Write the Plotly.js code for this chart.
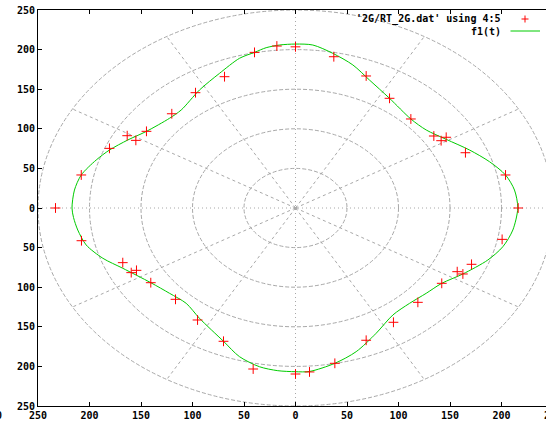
<!DOCTYPE html>
<html><head><meta charset="utf-8">
<script src="https://cdn.plot.ly/plotly-3.0.1.min.js"></script>
<style>html,body{margin:0;padding:0;overflow:hidden;background:#fff;width:546px;height:421px}</style>
</head><body><div id="chart"></div>
<script>
// measured data points ('2G/RT_2G.dat' using 4:5), Cartesian x,y
const pointsX = [-233, -208, -180.6, -163.4, -155, -144.7, -120.1, -97.1, -68.9, -39.8, -18.1,
  0, 37.2, 68.6, 91.3, 112, 134.3, 141.4, 146.3, 165, 203.9, 216.2,
  -207.8, -167.7, -159.5, -154.4, -140.5, -116.5, -95.1, -69.9, -41.1,
  0, 13.6, 38.2, 68.6, 95.1, 118.8, 142, 157, 162.5, 170.9, 200.6];
const pointsY = [0, 41.7, 75.3, 91.3, 85.4, 96.8, 119, 145.6, 165.8, 196.5, 204.5,
  203.5, 191, 166.7, 138.5, 112.4, 90.9, 85, 89.3, 69.8, 41.7, 0,
  -41.3, -69, -81.6, -78.7, -94.3, -115.3, -141.4, -168.3, -203.3,
  -209.6, -207, -196.1, -167, -144.3, -119.1, -95.1, -80.4, -83.3, -71.1, -39.6];

// f1(t) curve
const curveX = [215.8, 212.6, 203.9, 188.3, 169, 146.3, 126.9, 112, 91.3, 71.8, 55.7, 36.2, 16.8, 0,
  -15.5, -28.5, -39.8, -54.4, -73.8, -93.2, -111, -122.3, -144.7, -162.8, -180.6, -193.5, -208, -214.6, -217,
  -215.5, -211.4, -203.2, -187, -167.7, -140.5, -122.3, -106.1, -93.2, -69.9, -54.4, -35, -17.2, 0,
  13.6, 38.2, 58.9, 78.3, 94.5, 110.7, 126.9, 142, 162.5, 186.7, 201.3, 211, 215.8];
const curveY = [0, 22.7, 41.7, 58.5, 73.2, 86.7, 98.5, 112.4, 138.5, 161.6, 180.6, 195.3, 205.8, 207,
  205.8, 202.4, 196.5, 189, 170, 149, 123.7, 113.3, 96.8, 85.9, 73.2, 60.6, 41.7, 22.7, 0,
  -12, -27.8, -46.7, -63.5, -76.1, -94.3, -107.7, -120.4, -139.3, -168.3, -187.7, -200.4, -205.4, -206.7,
  -206.4, -196.1, -181.4, -158.2, -135.1, -120.4, -107.7, -95.1, -83.3, -65.7, -48.9, -27.8, 0];

const tickVals = [-250, -200, -150, -100, -50, 0, 50, 100, 150, 200, 250];
const tickText = ['250', '200', '150', '100', '50', '0', '50', '100', '150', '200', '250'];
const gridRadii = [50, 100, 150, 200, 250];
const spokeAngles = [30, 60, 120, 150, 210, 240, 300, 330];
const legendLabels = ["'2G/RT_2G.dat' using 4:5", "f1(t)"];

const W = 563, H = 421, L = 38, R = 10, T = 10, B = 15;
const PW = W - L - R, PH = H - T - B;
const px = v => (v - L) / PW;
const py = v => (H - B - v) / PH;

const font = {family: 'DejaVu Sans Mono', size: 10, color: '#000', weight: 'bold'};
const gridColor = '#a8a8a8';
const shapes = [];
gridRadii.forEach(r => shapes.push({type: 'circle', xref: 'x', yref: 'y', x0: -r, x1: r, y0: -r, y1: r,
  layer: 'below', line: {color: gridColor, width: 1, dash: '4px,2px'}}));
const rMax = gridRadii[gridRadii.length - 1];
spokeAngles.forEach(a => {
  const t = a * Math.PI / 180;
  shapes.push({type: 'line', xref: 'x', yref: 'y', x0: 0, y0: 0, x1: rMax * Math.cos(t), y1: rMax * Math.sin(t),
    layer: 'below', line: {color: gridColor, width: 1, dash: '3px,3px'}});
});
shapes.push({type: 'line', xref: 'x', yref: 'y', x0: -250, x1: 250, y0: 0, y1: 0, layer: 'below',
  line: {color: gridColor, width: 1, dash: '1px,3px'}});
shapes.push({type: 'line', xref: 'x', yref: 'y', x0: 0, x1: 0, y0: -250, y1: 250, layer: 'below',
  line: {color: gridColor, width: 1, dash: '1px,3px'}});
// legend samples
shapes.push({type: 'line', xref: 'paper', yref: 'paper', x0: px(521.5), x1: px(528.5), y0: py(19), y1: py(19), line: {color: '#ff0000', width: 1}});
shapes.push({type: 'line', xref: 'paper', yref: 'paper', x0: px(525), x1: px(525), y0: py(15.5), y1: py(22.5), line: {color: '#ff0000', width: 1}});
shapes.push({type: 'line', xref: 'paper', yref: 'paper', x0: px(510.5), x1: px(540), y0: py(31), y1: py(31), line: {color: '#00cc00', width: 1}});

const annotations = [
  {xref: 'paper', yref: 'paper', x: px(503), y: py(19.3), xanchor: 'right', yanchor: 'middle', text: legendLabels[0], showarrow: false, font: font},
  {xref: 'paper', yref: 'paper', x: px(503), y: py(31.7), xanchor: 'right', yanchor: 'middle', text: legendLabels[1], showarrow: false, font: font},
  {xref: 'paper', yref: 'paper', x: px(3.5), y: py(415), xanchor: 'right', yanchor: 'middle', text: '300', showarrow: false, font: font}
];

const traces = [
  {x: curveX, y: curveY, mode: 'lines', line: {color: '#00cc00', width: 1, shape: 'spline', smoothing: 0.8}, hoverinfo: 'skip'},
  {x: pointsX, y: pointsY, mode: 'markers', marker: {symbol: 'cross-thin', size: 7, color: '#ff0000', line: {color: '#ff0000', width: 1}}}
];

const axisBase = {range: [-250, 250], tickmode: 'array', tickvals: tickVals, ticktext: tickText,
  showgrid: false, zeroline: false, showline: true, mirror: 'ticks', linecolor: '#000', linewidth: 1,
  ticks: 'inside', ticklen: 4, tickcolor: '#000', tickfont: font, fixedrange: true};

const layout = {
  width: W, height: H, margin: {l: L, r: R, t: T, b: B},
  paper_bgcolor: '#fff', plot_bgcolor: '#fff', showlegend: false,
  xaxis: Object.assign({}, axisBase),
  yaxis: Object.assign({}, axisBase),
  shapes: shapes, annotations: annotations
};
Plotly.newPlot('chart', traces, layout, {staticPlot: true});
</script></body></html>
